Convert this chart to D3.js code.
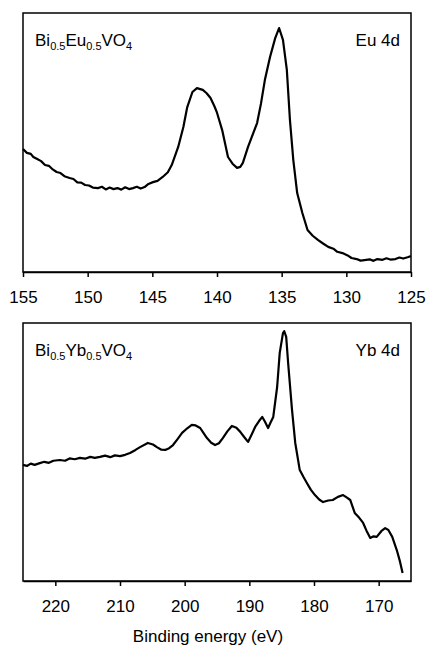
<!DOCTYPE html>
<html>
<head>
<meta charset="utf-8">
<script src="https://cdn.jsdelivr.net/npm/d3@7"></script>
<style>
  body { margin: 0; background: #fff; }
  svg text { font-family: "Liberation Sans", Arial, sans-serif; fill: #000; }
</style>
</head>
<body>
<div id="chart"></div>
<script>
/**
 * DATA (intensity in arbitrary units 0-100)
 * */
const euEnergy = [155.0,154.7,154.4,154.2,153.9,153.6,153.3,153.0,152.7,152.4,152.1,151.8,151.4,151.1,150.8,150.5,150.2,149.9,149.6,149.2,148.9,148.6,148.3,148.0,147.7,147.4,147.1,146.8,146.5,146.2,145.9,145.6,145.3,144.95,144.6,144.2,143.8,143.5,143.0,142.6,142.3,141.9,141.55,141.3,141.1,140.8,140.5,140.2,140.0,139.6,139.15,138.8,138.45,138.2,138.0,137.6,136.9,136.6,136.3,135.9,135.5,135.2,134.9,134.6,134.36,134.1,133.8,133.4,133.0,132.6,132.2,131.8,131.4,131.0,130.7,130.3,129.9,129.6,129.2,128.9,128.6,128.2,127.9,127.6,127.2,126.9,126.6,126.2,125.9,125.6,125.2,125.0];
const euIntensity = [47.5,46.0,45.6,44.4,43.6,42.8,41.3,41.0,39.6,38.6,38.2,37.0,36.3,35.9,34.6,34.5,33.6,33.4,32.6,32.4,32.9,31.9,32.6,32.0,32.4,31.8,32.7,32.0,32.4,32.9,32.2,32.8,34.0,34.7,35.2,36.7,38.5,41.3,48.3,56.0,63.7,69.5,71.0,70.6,70.3,69.0,67.2,64.0,61.5,54.8,44.4,41.8,40.2,40.6,42.1,48.3,57.5,65.0,74.1,83.0,90.3,94.2,89.6,78.0,58.7,43.2,30.5,22.8,16.2,14.0,12.4,11.0,9.7,9.0,7.8,7.3,6.4,5.4,5.0,4.4,4.6,4.9,4.3,5.0,4.7,5.3,4.8,5.0,5.6,5.2,5.8,6.2];

const ybEnergy = [225.0,224.4,223.8,223.2,222.4,221.7,221.0,220.3,219.3,218.5,217.8,217.0,216.2,215.4,214.6,213.9,213.1,212.3,211.5,210.8,210.0,209.2,208.45,207.6,206.9,205.7,204.9,204.3,203.6,203.0,202.4,201.8,201.1,200.4,199.6,198.9,198.3,197.6,197.1,196.55,195.9,195.3,194.7,194.1,193.4,192.7,192.0,191.4,190.8,190.2,189.6,189.1,188.5,188.0,187.6,187.1,186.7,186.3,185.7,185.3,184.8,184.6,184.3,184.0,183.4,182.9,182.2,181.6,181.1,180.5,179.85,179.2,178.6,177.8,177.1,176.3,175.5,174.9,174.4,173.7,173.0,172.4,171.9,171.3,170.8,170.3,169.6,169.0,168.5,167.9,167.2,166.7,166.3];
const ybIntensity = [45.0,44.6,45.5,45.0,45.7,46.2,45.8,46.6,46.9,46.6,47.5,47.2,47.7,47.4,48.1,47.7,48.1,48.6,48.0,48.7,48.4,48.9,49.6,50.8,51.9,53.5,52.9,51.9,50.9,50.8,51.5,52.7,55.0,57.4,59.2,60.5,60.3,59.3,57.4,55.4,53.6,52.7,53.4,55.4,58.0,60.1,59.4,57.8,55.8,53.9,57.0,59.7,62.0,63.6,61.8,59.3,61.5,63.6,75.2,88.4,96.1,96.8,94.6,84.5,66.3,53.5,43.0,40.2,38.0,35.4,33.3,31.6,30.6,31.2,31.4,32.6,33.3,32.3,31.4,26.4,24.5,22.5,19.6,16.7,17.3,17.1,19.3,20.5,19.8,17.1,12.0,7.5,3.1];

const euTicks = [155,150,145,140,135,130,125];
const ybTicks = [220,210,200,190,180,170];

const panels = [
  { energy: euEnergy, intensity: euIntensity, domain: [155,125], ticks: euTicks,
    sample: ["Bi","0.5","Eu","0.5","VO","4"], level: "Eu 4d", top: 13, bottom: 272 },
  { energy: ybEnergy, intensity: ybIntensity, domain: [225,165], ticks: ybTicks,
    sample: ["Bi","0.5","Yb","0.5","VO","4"], level: "Yb 4d", top: 323, bottom: 581 }
];

const width = 426, height = 648;
const left = 23, right = 411;

const svg = d3.select("#chart").append("svg")
  .attr("width", width)
  .attr("height", height);

panels.forEach(p => {
  const x = d3.scaleLinear().domain(p.domain).range([left, right]);
  const y = d3.scaleLinear().domain([0, 100]).range([p.bottom, p.top]);
  const g = svg.append("g");

  const pts = p.energy.map((e, i) => [e, p.intensity[i]]);
  g.append("path")
    .datum(pts)
    .attr("fill", "none")
    .attr("stroke", "#000")
    .attr("stroke-width", 2.2)
    .attr("stroke-linejoin", "round")
    .attr("d", d3.line().x(d => x(d[0])).y(d => y(d[1])));

  // frame
  g.append("rect")
    .attr("x", left).attr("y", p.top)
    .attr("width", right - left).attr("height", p.bottom - p.top)
    .attr("fill", "none").attr("stroke", "#000").attr("stroke-width", 1.5);

  const ax = g.append("g")
    .attr("transform", `translate(0,${p.bottom})`)
    .call(d3.axisBottom(x).tickValues(p.ticks).tickSize(5).tickSizeOuter(0).tickPadding(14));
  ax.select(".domain").attr("stroke-width", 1.5);
  ax.selectAll(".tick line").attr("stroke-width", 1.5);
  ax.selectAll(".tick text")
    .attr("font-size", 17)
    .attr("font-family", "Liberation Sans, Arial, sans-serif");

  // sample label with subscripts
  const t = g.append("text")
    .attr("x", 35).attr("y", p.top + 33)
    .attr("font-size", 17);
  p.sample.forEach((s, i) => {
    const sub = i % 2 === 1;
    t.append("tspan")
      .attr("font-size", sub ? 11 : 17)
      .attr("dy", sub ? 4 : (i === 0 ? 0 : -4))
      .text(s);
  });

  g.append("text")
    .attr("x", 400).attr("y", p.top + 33)
    .attr("text-anchor", "end")
    .attr("font-size", 17)
    .text(p.level);
});

svg.append("text")
  .attr("x", 208).attr("y", 642)
  .attr("text-anchor", "middle")
  .attr("font-size", 17)
  .text("Binding energy (eV)");
</script>
</body>
</html>
